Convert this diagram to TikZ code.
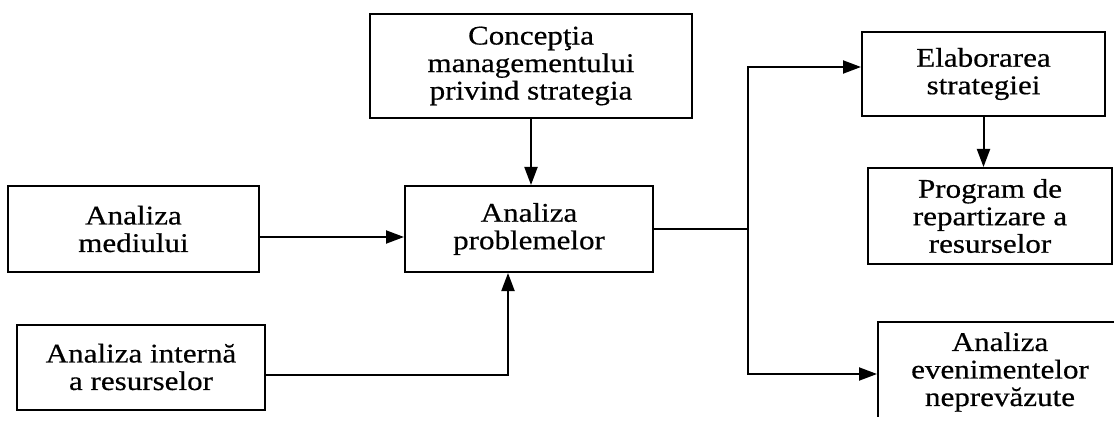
\documentclass[tikz,border=0pt]{standalone}
\usepackage{fontspec}
\setmainfont{Liberation Serif}[FakeStretch=1.15,FakeBold=0.5]
\usetikzlibrary{arrows.meta,calc}
\begin{document}
\begin{tikzpicture}[x=1pt,y=-1pt,
  box/.style={draw,line width=2pt,align=center,inner sep=0pt,
    font=\fontsize{27}{27.5}\selectfont},
  arr/.style={line width=2pt,-{Triangle[length=18pt,width=13pt]}},
  wire/.style={line width=2pt}]
\useasboundingbox (0,0) rectangle (1114,422);
\clip (0,0) rectangle (1114,416);
% boxes
\node[box,minimum width=322pt,minimum height=104pt] (conc) at (531,66)
  {Concepţia\\managementului\\privind strategia};
\node[box,minimum width=251pt,minimum height=86pt] (med) at (133.5,229)
  {Analiza\\mediului};
\node[box,minimum width=248pt,minimum height=86pt] (prob) at (529,229)
  {Analiza\\problemelor};
\node[box,minimum width=248pt,minimum height=85pt] (intern) at (141,367)
  {Analiza internă\\a resurselor};
\node[box,minimum width=243pt,minimum height=84pt] (elab) at (983.5,74)
  {Elaborarea\\strategiei};
\node[box,minimum width=244pt,minimum height=96pt] (prog) at (990,216)
  {Program de\\repartizare a\\resurselor};
\node[box,minimum width=244pt,minimum height=100pt] (even) at (1000,372)
  {Analiza\\evenimentelor\\neprevăzute};
% branch points
\coordinate (jtop) at (748,67);
\coordinate (jbot) at (748,374);
% connectors
\draw[arr] (conc.south) -- (conc.south |- prob.north);
\draw[arr] ([yshift=-8pt]med.east) -- ([yshift=-8pt]med.east -| prob.west);
\draw[arr] ([yshift=-8pt]intern.east) -| ([xshift=-21pt]prob.south);
\draw[wire] (prob.east) -- (prob.east -| jtop);
\draw[arr] (prob.east -| jtop) -- (jtop) -- (jtop -| elab.west);
\draw[arr] (prob.east -| jtop) -- (jbot) -- (jbot -| even.west);
\draw[arr] (elab.south) -- (elab.south |- prog.north);
\end{tikzpicture}
\end{document}
